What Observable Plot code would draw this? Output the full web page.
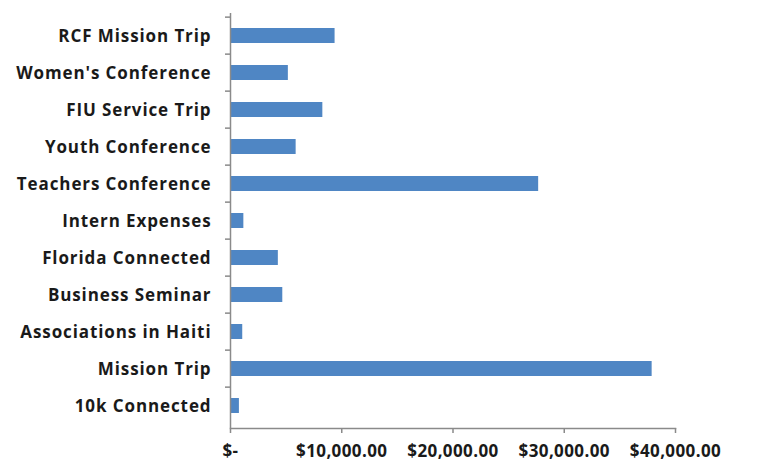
<!DOCTYPE html>
<html>
<head>
<meta charset="utf-8">
<script src="https://cdn.jsdelivr.net/npm/d3@7"></script>
<script src="https://cdn.jsdelivr.net/npm/@observablehq/plot@0.6"></script>
<style>
  html, body { margin: 0; padding: 0; background: #fff; }
  #chart svg { display: block; }
  #chart svg g[aria-label="y-axis tick label"] text { letter-spacing: 0.9px; }
</style>
</head>
<body>
<div id="chart"></div>
<script>
const categories = [
  "RCF Mission Trip",
  "Women's Conference",
  "FIU Service Trip",
  "Youth Conference",
  "Teachers Conference",
  "Intern Expenses",
  "Florida Connected",
  "Business Seminar",
  "Associations in Haiti",
  "Mission Trip",
  "10k Connected"
];
const amounts = [9400, 5200, 8300, 5900, 27700, 1200, 4300, 4700, 1100, 37900, 800];
const xTicks = [0, 10000, 20000, 30000, 40000];

const data = categories.map((c, i) => ({category: c, amount: amounts[i]}));

const W = 776, H = 466;
const mTop = 13, mBottom = 38, mLeft = 230, mRight = 101;
const step = (H - mTop - mBottom) / categories.length;
const axisColor = "#8a8a8a";
const font = "'Open Sans', sans-serif";

const fmt = d => d === 0 ? "$-" : "$" + d3.format(",.2f")(d);

const chart = Plot.plot({
  width: W,
  height: H,
  marginTop: mTop,
  marginBottom: mBottom,
  marginLeft: mLeft,
  marginRight: mRight,
  style: {fontFamily: font, fontSize: "17px", fontWeight: 700, letterSpacing: "0.4px", color: "#1a1a1a", background: "#fff", overflow: "visible"},
  x: {domain: [0, 40000]},
  y: {domain: categories, paddingInner: 0.6, paddingOuter: 0.3},
  marks: [
    Plot.barX(data, {x: "amount", y: "category", fill: "#4f86c4"}),
    Plot.ruleX([0], {stroke: axisColor, strokeWidth: 1.5}),
    Plot.frame({anchor: "bottom", stroke: axisColor, strokeWidth: 1.5}),
    Plot.axisY({tickSize: 0, tickPadding: 19, fontSize: 17, fill: "#1a1a1a", label: null, dy: 1}),
    Plot.axisY({tickSize: 5, tickFormat: () => "", dy: -step / 2, stroke: axisColor, strokeWidth: 1.5, label: null}),
    Plot.axisX({ticks: xTicks, tickFormat: fmt, tickSize: 5, tickPadding: 11, stroke: axisColor, strokeWidth: 1.5, fill: "#1a1a1a", fontSize: 17, label: null})
  ]
});
document.getElementById("chart").appendChild(chart);
</script>
</body>
</html>
